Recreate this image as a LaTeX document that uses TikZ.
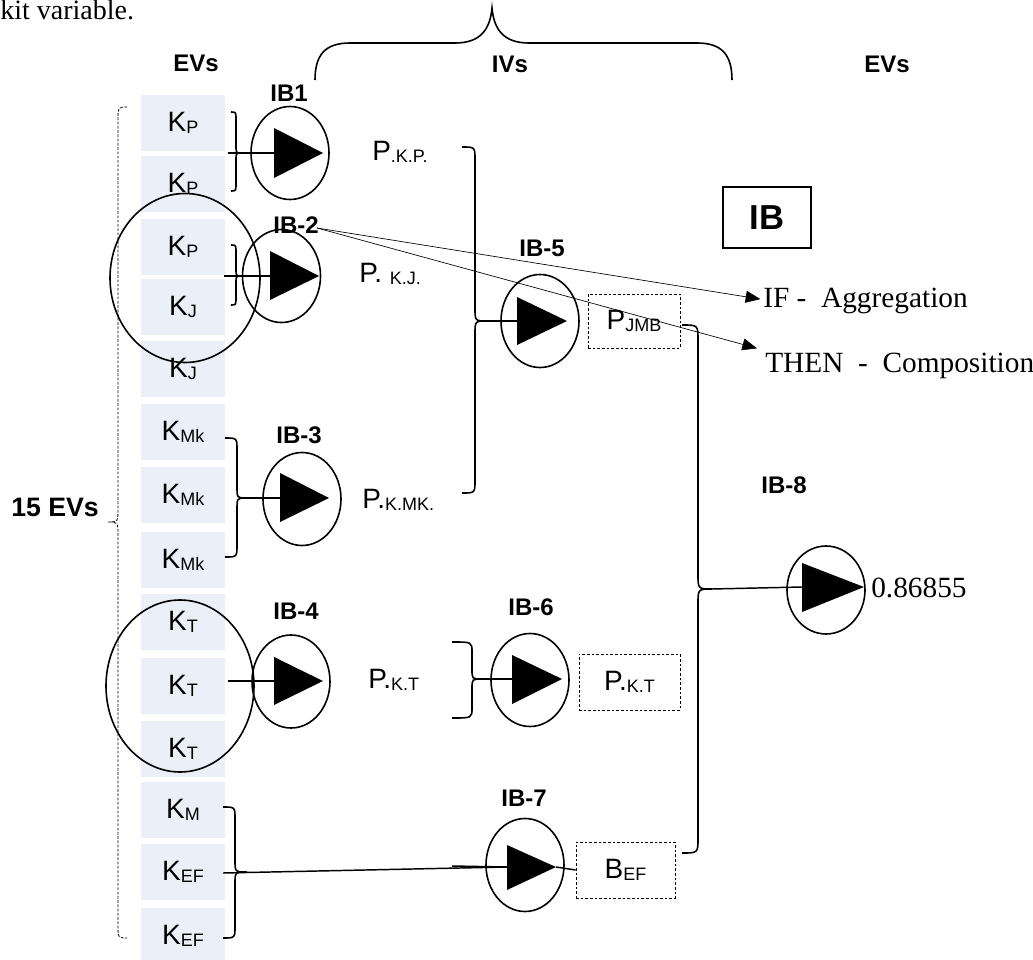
\documentclass[tikz,border=0pt]{standalone}
\usepackage{fontspec}
\setmainfont{Liberation Sans}
\newfontfamily\tms{Liberation Serif}
\usetikzlibrary{shapes.geometric,arrows.meta}
\definecolor{cellc}{RGB}{234,239,248}
\newcommand\sbs[1]{\raisebox{-2pt}{\fontsize{13.5}{15}\selectfont #1}}
\newcommand\rbr[8][brc]{\draw[#1] (#2,#5) .. controls (#3,#5) .. (#3,#5+#8) -- (#3,#6-#8) .. controls (#3,#6) .. (#4,#6) .. controls (#3,#6) .. (#3,#6+#8) -- (#3,#7-#8) .. controls (#3,#7) .. (#2,#7);}
\begin{document}
\begin{tikzpicture}[x=0.75pt,y=-0.75pt,
 cell/.style={fill=cellc, minimum width=63pt, minimum height=42pt, inner sep=0pt, font=\fontsize{21}{25}\selectfont},
 ibc/.style={ellipse, draw, line width=1.2pt, minimum width=58.5pt, minimum height=69.75pt, inner sep=0pt},
 bigc/.style={ellipse, draw, line width=1.2pt, inner sep=0pt},
 lbl/.style={font=\bfseries\fontsize{18}{22}\selectfont, inner sep=0pt},
 plbl/.style={font=\fontsize{21}{25}\selectfont, inner sep=0pt, anchor=base west},
 dbox/.style={draw, line width=0.6pt, dash pattern=on 2pt off 1.5pt, inner sep=0pt, font=\fontsize{21}{25}\selectfont},
 brc/.style={line width=1.2pt},
 dbr/.style={line width=0.6pt, dash pattern=on 2pt off 1.2pt},
 con/.style={line width=1.1pt},
 arr/.style={line width=0.5pt, -{Triangle[length=11pt,width=9pt]}},
 tmst/.style={font=\tms\fontsize{22}{26}\selectfont, inner sep=0pt, anchor=base west}]
\clip (0,0) rectangle (1033,960);
\useasboundingbox (0,0) rectangle (1033,960);

% cells
\node[cell] (c1) at (183,123) {K\sbs{P}};
\node[cell] (c2) at (183,184) {K\sbs{P}};
\node[cell] (c3) at (183,247) {K\sbs{P}};
\node[cell] (c4) at (183,307) {K\sbs{J}};
\node[cell] (c5) at (183,369) {K\sbs{J}};
\node[cell] (c6) at (183,432) {K\sbs{Mk}};
\node[cell] (c7) at (183,495) {K\sbs{Mk}};
\node[cell] (c8) at (183,560) {K\sbs{Mk}};
\node[cell] (c9) at (183,622) {K\sbs{T}};
\node[cell] (c10) at (183,686) {K\sbs{T}};
\node[cell] (c11) at (183,749) {K\sbs{T}};
\node[cell] (c12) at (183,810) {K\sbs{M}};
\node[cell] (c13) at (183,872) {K\sbs{EF}};
\node[cell] (c14) at (183,936) {K\sbs{EF}};

% big grouping ellipses
\node[bigc, minimum width=112.5pt, minimum height=126.75pt] (e1) at (185,278) {};
\node[bigc, minimum width=111pt, minimum height=129pt] (e2) at (180,686) {};

% header texts
\node[tmst, font=\tms\fontsize{21}{25}\selectfont] (kv) at (0,20) {kit variable.};
\node[lbl] (hev1) at (196,63) {EVs};
\node[lbl] (hiv) at (510,64) {IVs};
\node[lbl] (hev2) at (887,64) {EVs};
\node[lbl, font=\bfseries\fontsize{20}{24}\selectfont] (ev15) at (55,507) {15 EVs};
\draw[brc] (315,80) .. controls (315,55) and (325,43) .. (350,43) -- (455,43) .. controls (480,43) and (490,30) .. (492,8) .. controls (494,30) and (504,43) .. (529,43) -- (697,43) .. controls (722,43) and (732,55) .. (732,80);

% dashed brace of 15 EVs
\rbr[dbr]{127}{118}{108}{107}{522}{938}{14}

% IB circles
\node[ibc] (ib1) at (290,153) {};
\node[ibc] (ib2) at (281.5,276) {};
\node[ibc] (ib3) at (302,499) {};
\node[ibc] (ib4) at (291,681.5) {};
\node[ibc] (ib5) at (540,321) {};
\node[ibc] (ib6) at (530,680) {};
\node[ibc] (ib7) at (525,865) {};
\node[ibc, minimum height=66pt] (ib8) at (826,590) {};

% triangles
\fill (274,128) -- (274,178) -- (323,153) -- cycle;
\fill (270,251) -- (270,300) -- (319,276) -- cycle;
\fill (280,473) -- (280,522) -- (329,498) -- cycle;
\fill (274,657) -- (274,705) -- (323,681) -- cycle;
\fill (517,297) -- (517,345) -- (567,321) -- cycle;
\fill (512,655) -- (512,704) -- (562,679) -- cycle;
\fill (507,845) -- (507,890) -- (556,867) -- cycle;
\fill (802,563) -- (802,612) -- (864,587) -- cycle;

% IB labels
\node[lbl] (l1) at (289,93) {IB1};
\node[lbl] (l2) at (296,225) {IB-2};
\node[lbl] (l3) at (299,435) {IB-3};
\node[lbl] (l4) at (296,611) {IB-4};
\node[lbl] (l5) at (542,248) {IB-5};
\node[lbl] (l6) at (531,607) {IB-6};
\node[lbl] (l7) at (524,798) {IB-7};
\node[lbl] (l8) at (784,485) {IB-8};

% braces
\rbr{231}{236}{241}{112}{153}{191}{8}
\rbr{231}{236}{241}{245}{276}{305}{8}
\rbr{225}{237}{246}{438}{498}{557}{12}
\rbr{462}{475}{487}{147}{321}{493}{13}
\rbr{452}{472}{482}{642}{679}{718}{10}
\rbr{223}{235}{247}{807}{872}{938}{12}
\rbr{682}{698}{712}{325}{589}{853}{15}

% intermediate texts
\node[plbl] (p1) at (372,160) {P\sbs{.K.P.}};
\node[plbl] (p2) at (359,282) {P.\ \sbs{K.J.}};
\node[plbl] (p3) at (362,508) {P.\sbs{K.MK.}};
\node[plbl] (p4) at (368,688) {P.\sbs{K.T}};
\node[dbox, minimum width=69pt, minimum height=40.5pt] (pj) at (634,321) {P\sbs{JMB}};
\node[dbox, minimum width=75.75pt, minimum height=42pt] (pk) at (629.5,682) {P.\sbs{K.T}};
\node[dbox, minimum width=74.25pt, minimum height=42pt] (bef) at (625.5,870) {B\sbs{EF}};

% connector coordinates
\coordinate (s1) at (228,153); \coordinate (t1) at (274,153);
\coordinate (s2) at (224,276); \coordinate (t2) at (270,276);
\coordinate (s3) at (246,498); \coordinate (t3) at (280,498);
\coordinate (s4) at (228,681); \coordinate (t4) at (274,681);
\coordinate (s5) at (487,321); \coordinate (t5) at (517,321);
\coordinate (s6) at (482,679); \coordinate (t6) at (512,679);
\coordinate (s7) at (223,873); \coordinate (t7) at (507,867);
\coordinate (s7b) at (452,866);
\coordinate (o7) at (556,867);
\coordinate (s8) at (712,589); \coordinate (t8) at (802,587);
\draw[con] (s1) -- (t1);
\draw[con] (s2) -- (t2);
\draw[con] (s3) -- (t3);
\draw[con] (s4) -- (t4);
\draw[con] (s5) -- (t5);
\draw[con] (s6) -- (t6);
\draw[con] (s7) -- (t7);
\draw[con] (s7b) -- (t7);
\draw[con] (o7) -- (bef.west);
\draw[con] (s8) -- (t8);

% right side
\node[draw, line width=0.8pt, minimum width=66pt, minimum height=45.75pt, inner sep=0pt, font=\bfseries\fontsize{26}{30}\selectfont] (ibx) at (767,217.5) {IB};
\node[tmst] (ifn) at (763,307) {IF -\ \ Aggregation};
\node[tmst] (thn) at (765,372) {THEN\ \ -\ \ Composition};
\node[tmst] (out) at (871,597) {0.86855};
\coordinate (a0) at (317,228);
\draw[arr] (a0) -- ([xshift=-2pt,yshift=1pt]ifn.west);
\draw[arr] (a0) -- ([xshift=-6pt,yshift=3pt]thn.north west);
\end{tikzpicture}
\end{document}
